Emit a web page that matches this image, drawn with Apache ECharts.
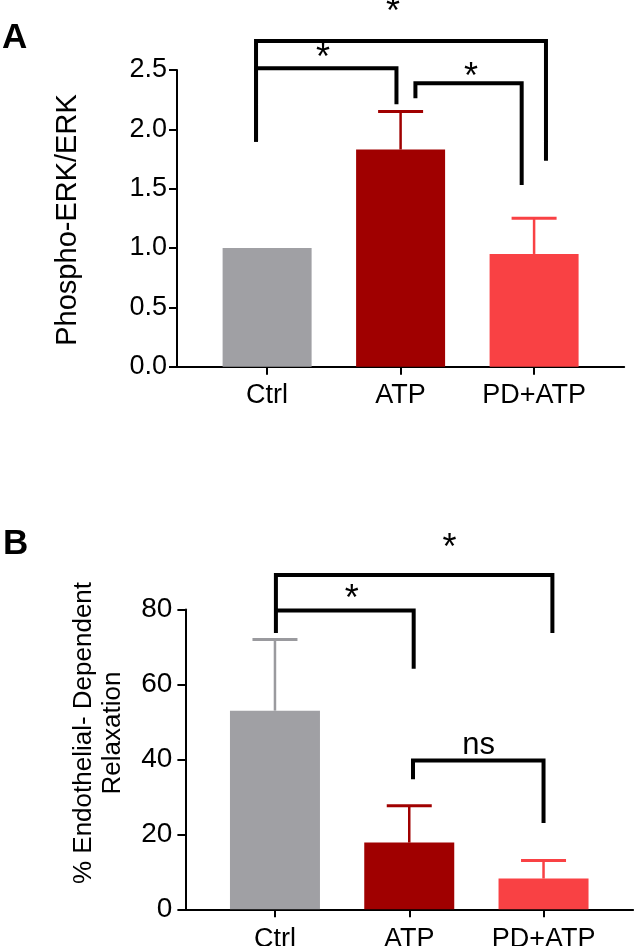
<!DOCTYPE html>
<html>
<head>
<meta charset="utf-8">
<script src="https://cdn.jsdelivr.net/npm/echarts@6/dist/echarts.min.js"></script>
<style>
html,body{margin:0;padding:0;background:#fff;}
#chart{width:636px;height:946px;}
</style>
</head>
<body>
<div id="chart"></div>
<script>
// ---- data ----
const categories = ['Ctrl', 'ATP', 'PD+ATP'];
// Panel A: Phospho-ERK/ERK
const erkMean = [1.0, 1.83, 0.95];
const erkSem = [0, 0.32, 0.30];
const erkTicks = [0, 0.5, 1.0, 1.5, 2.0, 2.5];
// Panel B: % endothelial-dependent relaxation
const relaxMean = [53, 17.8, 8.2];
const relaxSem = [19, 9.8, 4.8];
const relaxTicks = [0, 20, 40, 60, 80];
// significance brackets: [xStart, xEnd, yBar, yLeftEnd, yRightEnd] in data units
const bracketsA = [
  [-0.083, 2.089, 2.745, 1.896, 1.736],
  [-0.083, 0.969, 2.515, 1.896, 2.211],
  [1.111, 1.907, 2.388, 2.262, 1.531]
];
const marksA = [[0.944, 2.98, '*'], [0.418, 2.59, '*'], [1.527, 2.436, '*']];
const bracketsB = [
  [0.007, 2.066, 89.2, 73.7, 73.7],
  [0.007, 1.033, 79.7, 79.7, 64.2],
  [1.028, 2.0, 39.7, 34.7, 23.0]
];
const marksB = [[1.299, 96.2, '*'], [0.571, 82.4, '*'], [1.517, 43.7, 'ns']];

// ---- styles ----
const barColors = ['#a0a0a4', '#a00000', '#f94144'];
const errColors = ['#9a9a9e', '#a00000', '#f94144'];
const FONT = "'Liberation Sans', Arial, Helvetica, sans-serif";

const chart = echarts.init(document.getElementById('chart'), null, {renderer: 'canvas'});

function xAxisCfg(gridIndex, min, max, fs, margin) {
  return {
    type: 'value', gridIndex, min, max,
    axisLine: {show: true, onZero: false, lineStyle: {color: '#000', width: 2}},
    axisTick: {show: true, length: 8, lineStyle: {color: '#000', width: 2}, customValues: [0, 1, 2]},
    axisLabel: {show: true, customValues: [0, 1, 2], color: '#000', fontSize: fs, fontFamily: FONT, margin,
      formatter: v => categories[Math.round(v)]},
    splitLine: {show: false}
  };
}
function yAxisCfg(gridIndex, ticks, fs, margin, fmt) {
  return {
    type: 'value', gridIndex, min: ticks[0], max: ticks[ticks.length - 1], interval: ticks[1] - ticks[0],
    axisLine: {show: true, onZero: false, lineStyle: {color: '#000', width: 2}},
    axisTick: {show: true, length: 8, lineStyle: {color: '#000', width: 2}},
    axisLabel: {show: true, color: '#000', fontSize: fs, fontFamily: FONT, margin, formatter: fmt},
    splitLine: {show: false}
  };
}

function barData(means) {
  return means.map((m, i) => ({value: [i, m], itemStyle: {color: barColors[i]}}));
}
function errData(means, sems) {
  return means.map((m, i) => [i, m, m + sems[i]]).filter(d => d[2] > d[1]);
}
function errRender(params, api) {
  const i = api.value(0);
  const p0 = api.coord([i, api.value(1)]);
  const p1 = api.coord([i, api.value(2)]);
  const c = errColors[i];
  const hw = 22.5;
  return {
    type: 'group',
    children: [
      {type: 'line', shape: {x1: p0[0], y1: p0[1], x2: p1[0], y2: p1[1]}, style: {stroke: c, lineWidth: 2.5}},
      {type: 'line', shape: {x1: p1[0] - hw, y1: p1[1], x2: p1[0] + hw, y2: p1[1]}, style: {stroke: c, lineWidth: 3}}
    ]
  };
}
function bracketRender(params, api) {
  const x1 = api.value(0), x2 = api.value(1), y = api.value(2), yl = api.value(3), yr = api.value(4);
  const a = api.coord([x1, yl]), b = api.coord([x1, y]), c = api.coord([x2, y]), d = api.coord([x2, yr]);
  return {
    type: 'polyline',
    shape: {points: [a, b, c, d]},
    style: {stroke: '#000', lineWidth: 4, fill: null, lineJoin: 'miter'}
  };
}
function markRender(fsStar, fsText) {
  return function (params, api) {
    const p = api.coord([api.value(0), api.value(1)]);
    const t = api.value(2);
    const isStar = t === '*';
    return {
      type: 'text',
      x: p[0], y: p[1],
      style: {text: t, fill: '#000', font: (isStar ? fsStar : fsText) + 'px ' + FONT,
        align: 'center', verticalAlign: 'middle'}
    };
  };
}

const option = {
  animation: false,
  backgroundColor: '#fff',
  grid: [
    {left: 177, right: 11.8, top: 70, height: 296.7, outerBoundsMode: 'none', containLabel: false},
    {left: 185.4, right: 2.9, top: 609.5, height: 299.8, outerBoundsMode: 'none', containLabel: false}
  ],
  xAxis: [
    xAxisCfg(0, -0.675, 2.675, 27, 15),
    xAxisCfg(1, -0.667, 2.667, 27, 17)
  ],
  yAxis: [
    yAxisCfg(0, erkTicks, 27, 10, v => v.toFixed(1)),
    yAxisCfg(1, relaxTicks, 28, 13, v => String(v))
  ],
  series: [
    {type: 'bar', xAxisIndex: 0, yAxisIndex: 0, barWidth: 89, data: barData(erkMean)},
    {type: 'bar', xAxisIndex: 1, yAxisIndex: 1, barWidth: 90, data: barData(relaxMean)},
    {type: 'custom', xAxisIndex: 0, yAxisIndex: 0, clip: false, data: errData(erkMean, erkSem), renderItem: errRender, z: 3},
    {type: 'custom', xAxisIndex: 1, yAxisIndex: 1, clip: false, data: errData(relaxMean, relaxSem), renderItem: errRender, z: 3},
    {type: 'custom', xAxisIndex: 0, yAxisIndex: 0, clip: false, data: bracketsA, renderItem: bracketRender, z: 4},
    {type: 'custom', xAxisIndex: 1, yAxisIndex: 1, clip: false, data: bracketsB, renderItem: bracketRender, z: 4},
    {type: 'custom', xAxisIndex: 0, yAxisIndex: 0, clip: false, data: marksA, renderItem: markRender(36, 30), z: 5},
    {type: 'custom', xAxisIndex: 1, yAxisIndex: 1, clip: false, data: marksB, renderItem: markRender(36, 31), z: 5}
  ],
  graphic: [
    {type: 'text', x: 2, y: 38, style: {text: 'A', font: 'bold 35px ' + FONT, fill: '#000', align: 'left', verticalAlign: 'middle'}},
    {type: 'text', x: 3, y: 544, style: {text: 'B', font: 'bold 35px ' + FONT, fill: '#000', align: 'left', verticalAlign: 'middle'}},
    {type: 'text', x: 68, y: 220, rotation: Math.PI / 2,
      style: {text: 'Phospho-ERK/ERK', font: '29px ' + FONT, fill: '#000', align: 'center', verticalAlign: 'middle'}},
    {type: 'text', x: 98, y: 733, rotation: Math.PI / 2,
      style: {text: '% Endothelial- Dependent\nRelaxation', font: '26px ' + FONT, lineHeight: 29, fill: '#000', align: 'center', verticalAlign: 'middle'}}
  ]
};
chart.setOption(option);
</script>
</body>
</html>
